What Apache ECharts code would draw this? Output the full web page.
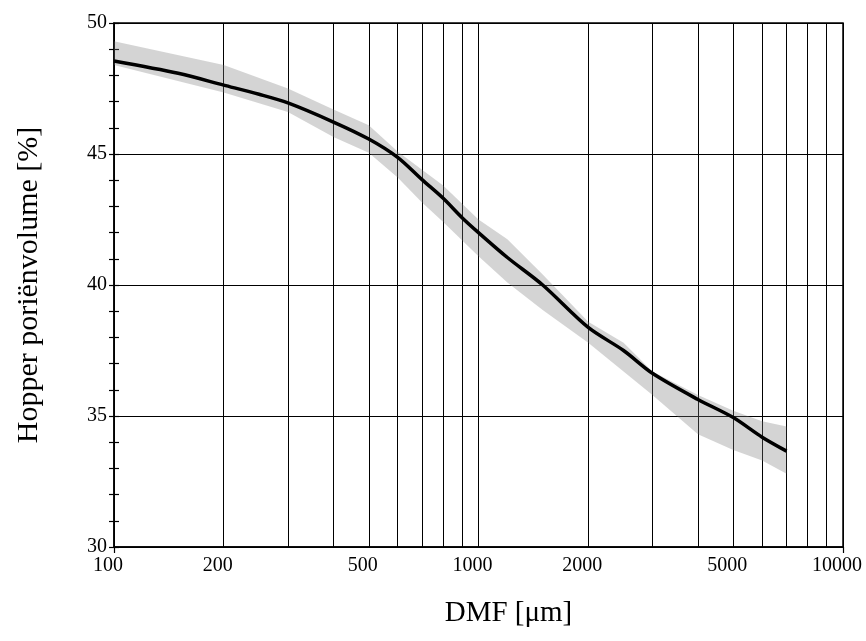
<!DOCTYPE html>
<html>
<head>
<meta charset="utf-8">
<script src="https://cdn.jsdelivr.net/npm/echarts@6/dist/echarts.min.js"></script>
<style>
  html, body { margin: 0; padding: 0; background: #fff; }
  #chart { width: 866px; height: 641px; }
</style>
</head>
<body>
<div id="chart"></div>
<script>
// gemeten lijn (DMF in µm -> poriënvolume in %)
const dmf = [100, 150, 200, 250, 300, 400, 500, 600, 700, 800, 900, 1000, 1200, 1500, 2000, 2500, 3000, 4000, 5000, 6000, 7000];
const volume = [48.55, 48.08, 47.63, 47.28, 46.95, 46.22, 45.57, 44.87, 44.02, 43.31, 42.58, 42.0, 41.05, 40.0, 38.38, 37.5, 36.63, 35.63, 34.94, 34.19, 33.66];

// grijze band (spreiding)
const bandDmf = [100, 200, 300, 400, 500, 600, 700, 800, 1000, 1200, 1500, 2000, 2500, 3000, 4000, 5000, 6000, 7000];
const bandHigh = [49.3, 48.4, 47.5, 46.7, 46.1, 45.1, 44.4, 43.8, 42.5, 41.75, 40.4, 38.6, 37.8, 36.7, 35.8, 35.2, 34.8, 34.6];
const bandLow = [48.4, 47.35, 46.6, 45.65, 45.05, 44.1, 43.15, 42.4, 41.1, 40.1, 39.05, 37.8, 36.7, 35.8, 34.3, 33.7, 33.3, 32.8];

// assen
const xGridValues = [100, 200, 300, 400, 500, 600, 700, 800, 900, 1000, 2000, 3000, 4000, 5000, 6000, 7000, 8000, 9000, 10000];
const xLabelValues = [100, 200, 500, 1000, 2000, 5000, 10000];

const font = '"Liberation Serif", "DejaVu Serif", serif';
const chart = echarts.init(document.getElementById('chart'));

const option = {
  animation: false,
  grid: {
    left: 114, right: 23, top: 23, bottom: 94,
    show: true, borderColor: '#000', borderWidth: 1.5
  },
  xAxis: [{
    type: 'log',
    logBase: 10,
    min: 100,
    max: 10000,
    position: 'bottom',
    name: 'DMF [μm]',
    nameLocation: 'middle',
    nameGap: 52,
    nameTextStyle: { fontFamily: font, fontSize: 29, color: '#000', padding: [0, 0, 0, 60] },
    axisLine: { lineStyle: { color: '#000', width: 1.5 } },
    axisTick: { show: false, customValues: xGridValues },
    axisLabel: {
      customValues: xLabelValues,
      formatter: v => String(Math.round(v)),
      fontFamily: font, fontSize: 20, color: '#000', margin: 9,
      padding: [0, 12, 0, 0]
    },
    splitLine: { show: true, lineStyle: { color: '#000', width: 1 } },
    minorTick: { show: false },
    minorSplitLine: { show: false }
  }, {
    type: 'log',
    logBase: 10,
    min: 100,
    max: 10000,
    position: 'bottom',
    axisLine: { show: false },
    axisTick: { show: true, customValues: [100, 10000], length: 6, lineStyle: { color: '#000', width: 1.2 } },
    axisLabel: { show: false },
    splitLine: { show: false }
  }],
  yAxis: [{
    type: 'value',
    min: 30,
    max: 50,
    interval: 5,
    name: 'Hopper poriënvolume [%]',
    nameLocation: 'middle',
    nameGap: 70,
    nameTextStyle: { fontFamily: font, fontSize: 30, color: '#000' },
    axisLine: { show: true, lineStyle: { color: '#000', width: 1.5 } },
    axisTick: { show: true, length: 5, lineStyle: { color: '#000', width: 1.2 } },
    minorTick: { show: true, splitNumber: 5, length: 5, lineStyle: { color: '#000', width: 1.2 } },
    axisLabel: { fontFamily: font, fontSize: 20, color: '#000', margin: 7, padding: [0, 0, 10, 0] },
    splitLine: { show: true, lineStyle: { color: '#000', width: 1 } }
  }, {
    type: 'value',
    min: 30,
    max: 50,
    interval: 5,
    position: 'left',
    axisLine: { show: false },
    axisTick: { show: true, inside: true, length: 5, lineStyle: { color: '#000', width: 1.2 } },
    minorTick: { show: true, splitNumber: 5, length: 5, lineStyle: { color: '#000', width: 1.2 } },
    axisLabel: { show: false },
    splitLine: { show: false }
  }],
  series: [{
    name: 'band',
    type: 'custom',
    clip: true,
    data: bandDmf.map((x, i) => [x, bandLow[i], bandHigh[i]]),
    encode: { x: 0, y: [1, 2] },
    renderItem: function (params, api) {
      // de hele band als één vlak tekenen (bij het eerste punt)
      if (params.dataIndex !== 0) return null;
      const upper = bandDmf.map((x, i) => api.coord([x, bandHigh[i]]));
      const lower = bandDmf.map((x, i) => api.coord([x, bandLow[i]])).reverse();
      return {
        type: 'polygon',
        shape: { points: upper.concat(lower) },
        style: { fill: 'rgba(120,120,120,0.32)' }
      };
    },
    z: 1
  }, {
    name: 'DMF',
    type: 'line',
    data: dmf.map((x, i) => [x, volume[i]]),
    smooth: 0.3,
    showSymbol: false,
    symbol: 'none',
    lineStyle: { color: '#000', width: 3.5 },
    z: 3
  }]
};

chart.setOption(option);
</script>
</body>
</html>
